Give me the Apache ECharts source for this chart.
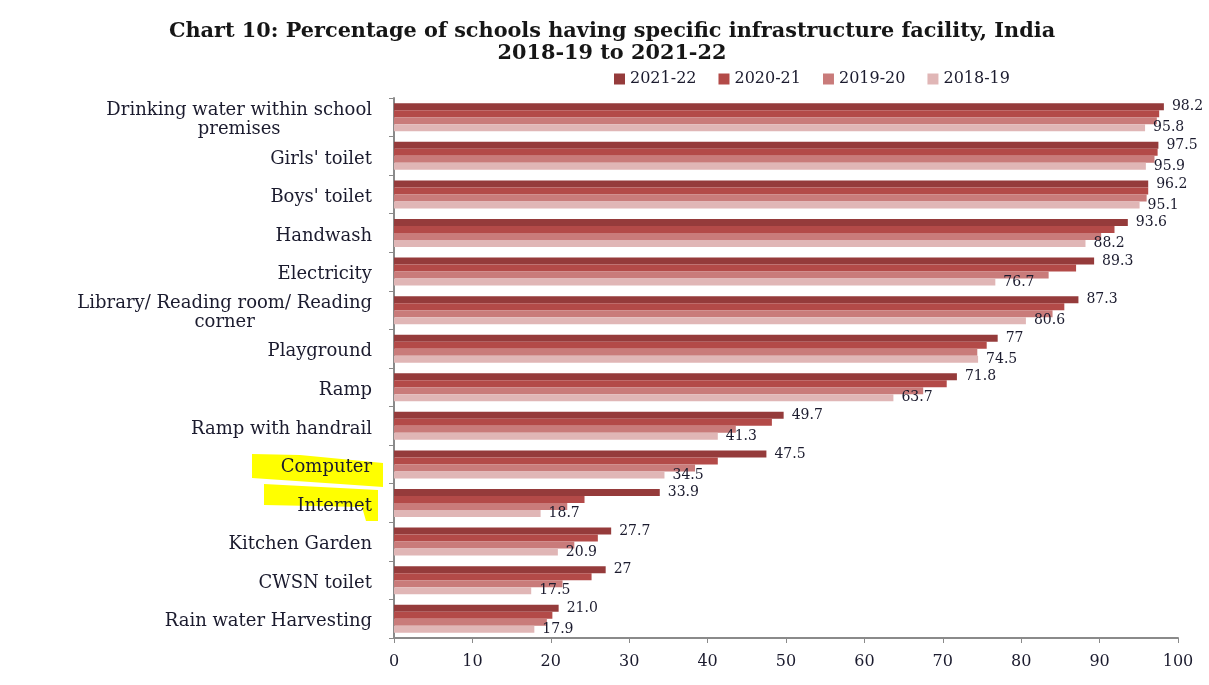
<!DOCTYPE html>
<html>
<head>
<meta charset="utf-8">
<title>Chart 10: Percentage of schools having specific infrastructure facility, India</title>
<script src="https://cdn.jsdelivr.net/npm/echarts@6/dist/echarts.min.js"></script>
<style>
  html, body { margin: 0; padding: 0; background: #ffffff; }
  #chart { width: 1209px; height: 685px; }
</style>
</head>
<body>
<div id="chart"></div>
<script>
// Facilities, listed top to bottom
const facilities = [
  'Drinking water within school\npremises',
  "Girls' toilet",
  "Boys' toilet",
  'Handwash',
  'Electricity',
  'Library/ Reading room/ Reading\ncorner',
  'Playground',
  'Ramp',
  'Ramp with handrail',
  'Computer',
  'Internet',
  'Kitchen Garden',
  'CWSN toilet',
  'Rain water Harvesting'
];

const years = ['2021-22', '2020-21', '2019-20', '2018-19'];

// Labelled values are kept as printed, so the bars use the same numbers
const labels2122 = ['98.2', '97.5', '96.2', '93.6', '89.3', '87.3', '77', '71.8', '49.7', '47.5', '33.9', '27.7', '27', '21.0'];
const labels1819 = ['95.8', '95.9', '95.1', '88.2', '76.7', '80.6', '74.5', '63.7', '41.3', '34.5', '18.7', '20.9', '17.5', '17.9'];

const values2122 = labels2122.map(Number);
const values2021 = [97.6, 97.4, 96.2, 91.9, 87.0, 85.5, 75.6, 70.5, 48.2, 41.3, 24.3, 26.0, 25.2, 20.2];
const values1920 = [97.3, 97.0, 96.0, 90.2, 83.5, 84.0, 74.4, 67.5, 43.6, 38.4, 22.1, 23.0, 21.5, 19.5];
const values1819 = labels1819.map(Number);

const xTicks = [0, 10, 20, 30, 40, 50, 60, 70, 80, 90, 100];

const colors = ['#953b3b', '#b34a48', '#c97b7a', '#e0b6b6'];

const serif = '"DejaVu Serif", "Liberation Serif", serif';
const textColor = '#1b1b2e';

function labelFor(texts) {
  return {
    show: true,
    position: 'right',
    distance: 8,
    fontFamily: serif,
    fontSize: 14,
    color: textColor,
    formatter: p => texts[p.dataIndex]
  };
}

const seriesData = [values2122, values2021, values1920, values1819];

const chart = echarts.init(document.getElementById('chart'), null, { renderer: 'canvas' });

chart.setOption({
  animation: false,
  backgroundColor: '#ffffff',
  title: {
    text: 'Chart 10: Percentage of schools having specific infrastructure facility, India\n2018-19 to 2021-22',
    left: 607,
    top: 16,
    textAlign: 'center',
    textStyle: {
      fontFamily: serif,
      fontWeight: 'bold',
      fontSize: 20.8,
      lineHeight: 22,
      color: '#161616'
    }
  },
  legend: {
    data: years,
    left: 609,
    top: 66,
    itemWidth: 11,
    itemHeight: 11,
    itemGap: 22,
    icon: 'rect',
    textStyle: { fontFamily: serif, fontSize: 16, color: textColor }
  },
  grid: { left: 394, right: 31, top: 98, bottom: 47, containLabel: false },
  xAxis: {
    type: 'value',
    min: 0,
    max: 100,
    interval: 10,
    splitLine: { show: false },
    axisLine: { show: true, lineStyle: { color: '#8a8a8a', width: 2 } },
    axisTick: { show: true, length: 5, lineStyle: { color: '#8a8a8a', width: 1 } },
    axisLabel: {
      margin: 16,
      fontFamily: serif,
      fontSize: 16,
      color: textColor,
      formatter: v => (xTicks.includes(v) ? String(v) : '')
    }
  },
  yAxis: {
    type: 'category',
    data: facilities,
    inverse: true,
    axisLine: { show: true, lineStyle: { color: '#8a8a8a', width: 2 } },
    axisTick: { show: true, length: 5, alignWithLabel: false, lineStyle: { color: '#8a8a8a' } },
    axisLabel: {
      margin: 22,
      padding: [6, 0, 0, 0],
      fontFamily: serif,
      fontSize: 18,
      color: textColor,
      formatter: v => v.split('\n').map(line => '{c|' + line + '}').join('\n'),
      rich: {
        c: { align: 'center', fontFamily: serif, fontSize: 18, color: textColor, lineHeight: 19 }
      }
    }
  },
  graphic: [
    {
      type: 'polygon',
      z: -10,
      shape: { points: [[252, 454], [300, 455], [383, 463], [383, 487], [340, 484], [252, 478]] },
      style: { fill: '#ffff00' }
    },
    {
      type: 'polygon',
      z: -10,
      shape: { points: [[264, 484], [378, 490], [378, 521], [366, 521], [362, 507], [264, 505]] },
      style: { fill: '#ffff00' }
    }
  ],
  series: years.map((y, i) => ({
    name: y,
    type: 'bar',
    data: seriesData[i],
    barWidth: 7,
    barGap: '0%',
    itemStyle: { color: colors[i] },
    label: i === 0 ? labelFor(labels2122) : (i === 3 ? labelFor(labels1819) : { show: false })
  }))
});
</script>
</body>
</html>
